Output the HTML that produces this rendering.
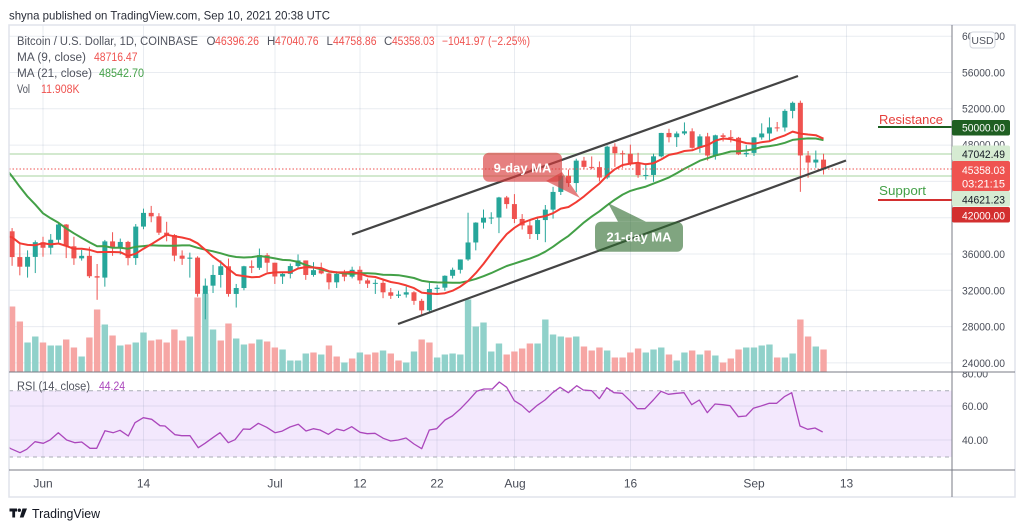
<!DOCTYPE html>
<html><head><meta charset="utf-8">
<style>
html,body{margin:0;padding:0;background:#fff;width:1024px;height:530px;overflow:hidden}
svg{display:block}
text{font-family:"Liberation Sans",Arial,sans-serif}
</style></head><body>
<svg width="1024" height="530" viewBox="0 0 1024 530" xmlns="http://www.w3.org/2000/svg">
<defs>
<clipPath id="mc"><rect x="9" y="25" width="943" height="347"/></clipPath>
<clipPath id="rc"><rect x="9" y="372" width="943" height="98"/></clipPath>
<clipPath id="ac"><rect x="952" y="372.5" width="63" height="97"/></clipPath>
</defs>
<rect width="1024" height="530" fill="#fff"/>

<!-- RSI band -->
<rect x="9" y="390.7" width="943" height="66.3" fill="#f3e8fd"/>

<!-- grid -->
<g stroke="rgba(120,135,165,0.16)" stroke-width="1">
<line x1="43" y1="25" x2="43" y2="470"/><line x1="143.5" y1="25" x2="143.5" y2="470"/>
<line x1="275" y1="25" x2="275" y2="470"/><line x1="360" y1="25" x2="360" y2="470"/>
<line x1="437" y1="25" x2="437" y2="470"/><line x1="514.5" y1="25" x2="514.5" y2="470"/>
<line x1="630.5" y1="25" x2="630.5" y2="470"/><line x1="754" y1="25" x2="754" y2="470"/>
<line x1="846.5" y1="25" x2="846.5" y2="470"/>
<line x1="9" y1="36.2" x2="952" y2="36.2"/><line x1="9" y1="72.5" x2="952" y2="72.5"/>
<line x1="9" y1="108.8" x2="952" y2="108.8"/><line x1="9" y1="145.1" x2="952" y2="145.1"/>
<line x1="9" y1="181.4" x2="952" y2="181.4"/><line x1="9" y1="217.7" x2="952" y2="217.7"/>
<line x1="9" y1="254" x2="952" y2="254"/><line x1="9" y1="290.3" x2="952" y2="290.3"/>
<line x1="9" y1="326.6" x2="952" y2="326.6"/><line x1="9" y1="362.9" x2="952" y2="362.9"/>
<line x1="9" y1="406" x2="952" y2="406"/><line x1="9" y1="440" x2="952" y2="440"/>
</g>
<g stroke="#a9acb5" stroke-width="1" stroke-dasharray="4,4">
<line x1="9" y1="390.7" x2="952" y2="390.7"/><line x1="9" y1="457" x2="952" y2="457"/>
</g>

<g id="vol" clip-path="url(#mc)"></g>
<g clip-path="url(#mc)">
<line x1="9" y1="154" x2="952" y2="154" stroke="#d3e9cf" stroke-width="2"/>
<line x1="9" y1="176" x2="952" y2="176" stroke="#d3e9cf" stroke-width="2"/>
</g>
<g id="cdl" clip-path="url(#mc)"></g>
<g id="ma" clip-path="url(#mc)" fill="none" stroke-width="2" stroke-linejoin="round"></g>
<line x1="9" y1="169" x2="952" y2="169" stroke="#ef5350" stroke-width="1" stroke-dasharray="1.5,2"/>

<!-- channel lines -->
<line x1="352" y1="234.5" x2="798" y2="76" stroke="#444" stroke-width="2.2"/>
<line x1="398" y1="324" x2="846" y2="160.5" stroke="#444" stroke-width="2.2"/>

<!-- callouts -->
<g>
<polygon points="546,181 562,172 580,198" fill="rgba(217,60,60,0.65)"/>
<rect x="483" y="152.7" width="79" height="29" rx="6" fill="rgba(217,60,60,0.65)"/>
<text x="522.5" y="172.5" font-size="13" font-weight="bold" fill="#fff" text-anchor="middle">9-day MA</text>
<polygon points="608,203 618,221.7 646,221.7" fill="rgba(43,105,43,0.6)"/>
<rect x="595" y="221.7" width="88" height="30" rx="6" fill="rgba(43,105,43,0.6)"/>
<text x="639" y="241.5" font-size="13" font-weight="bold" fill="#fff" text-anchor="middle">21-day MA</text>
</g>

<!-- resistance / support -->
<text x="879" y="124" font-size="13" fill="#e5403c" textLength="64" lengthAdjust="spacingAndGlyphs">Resistance</text>
<line x1="878" y1="127" x2="952" y2="127" stroke="#1b5e20" stroke-width="2"/>
<text x="879" y="195" font-size="13" fill="#43a047" textLength="47" lengthAdjust="spacingAndGlyphs">Support</text>
<line x1="878" y1="200" x2="952" y2="200" stroke="#d32f2f" stroke-width="2"/>

<!-- RSI line -->
<g clip-path="url(#rc)">
<polyline fill="none" stroke="#ab47bc" stroke-width="1.3" stroke-linejoin="round" points="9,447 10,448.3 20,452.7 26.7,449.3 35,441.7 43.3,443.3 50,440 58.3,432.7 66.7,440 75,442.7 81.7,442 90,448.3 96.7,448.3 105,430.7 113.3,432.7 120,430.3 128.3,436 135,422.7 143.3,417.7 151.7,419.3 160,425.7 165,426 175,434.7 181.7,435.7 190,435.7 198.3,447.7 205,443.3 213.3,437.3 220,432.7 228.3,442.7 235,439.7 243.3,429 250,429.3 258.3,423.3 266.7,427.3 275,432.7 281.7,431.3 290,427 298.3,424.3 306,431 313.3,428.7 320,430 328.3,434.3 336.7,429 344,430.7 351.7,426.7 360,432.3 367.3,433.7 375,433.3 383.3,438.3 390.7,441 398.3,440 406,438 414,444 421.7,448.7 429.3,430 436.7,428.7 445,420 452.3,416 460,409.3 468.3,400.7 476.7,391.3 484,389 492.3,389 499.3,382 506.7,387.3 514.3,400.7 521.7,405.3 529.3,412.3 537.3,405.3 545,400 552.7,392.7 560,387.3 568.3,392.7 576.7,385.7 583.3,390 591.7,390.7 599.3,398.7 606.7,387.7 614,392.7 622.3,393.3 630,400.7 637.3,408.7 645,408.7 653.3,400 661,391.3 668.3,394.3 676.7,393.3 684,392.7 691.7,404.7 699.3,400 707.3,412.7 715,404 722.7,404.7 730,405.7 738.3,416.7 746,416 753.3,408.3 761,406 769.3,403.3 776.7,403.3 784.3,396.7 791.7,392.7 800,426 807.7,429.3 815,428 822.7,432"/>
</g>

<!-- frame & separators -->
<rect x="9" y="25" width="1006" height="472" fill="none" stroke="#e0e3eb" stroke-width="1.5"/>
<g stroke="#787b86" stroke-width="1">
<line x1="952" y1="25" x2="952" y2="497"/>
<line x1="9" y1="372" x2="1015" y2="372"/>
<line x1="9" y1="470" x2="1015" y2="470"/>
</g>

<!-- header -->
<text x="9" y="19.5" font-size="12" fill="#2a2e39" textLength="321" lengthAdjust="spacingAndGlyphs">shyna published on TradingView.com, Sep 10, 2021 20:38 UTC</text>

<!-- legend -->
<g font-size="11.5" fill="#50535e">
<text x="17" y="45" textLength="181" lengthAdjust="spacingAndGlyphs">Bitcoin / U.S. Dollar, 1D, COINBASE</text>
<text x="206.5" y="45">O</text><text x="215" y="45" fill="#ef5350" textLength="44" lengthAdjust="spacingAndGlyphs">46396.26</text>
<text x="267" y="45">H</text><text x="275" y="45" fill="#ef5350" textLength="43.5" lengthAdjust="spacingAndGlyphs">47040.76</text>
<text x="326.5" y="45">L</text><text x="333" y="45" fill="#ef5350" textLength="43.5" lengthAdjust="spacingAndGlyphs">44758.86</text>
<text x="384" y="45">C</text><text x="392" y="45" fill="#ef5350" textLength="42.5" lengthAdjust="spacingAndGlyphs">45358.03</text>
<text x="442" y="45" fill="#ef5350" textLength="88" lengthAdjust="spacingAndGlyphs">−1041.97 (−2.25%)</text>
<text x="17" y="61" textLength="69" lengthAdjust="spacingAndGlyphs">MA (9, close)</text>
<text x="94" y="61" fill="#ef5350" textLength="43.5" lengthAdjust="spacingAndGlyphs">48716.47</text>
<text x="17" y="77" textLength="75" lengthAdjust="spacingAndGlyphs">MA (21, close)</text>
<text x="99" y="77" fill="#43a047" textLength="45" lengthAdjust="spacingAndGlyphs">48542.70</text>
<text x="17" y="93" textLength="13" lengthAdjust="spacingAndGlyphs">Vol</text>
<text x="41" y="93" fill="#ef5350" textLength="38.5" lengthAdjust="spacingAndGlyphs">11.908K</text>
<text x="17" y="390" textLength="73" lengthAdjust="spacingAndGlyphs">RSI (14, close)</text>
<text x="99" y="390" fill="#ab47bc" textLength="26" lengthAdjust="spacingAndGlyphs">44.24</text>
</g>

<!-- price axis -->
<g font-size="11" fill="#4a4e59">
<text x="962" y="40.2" textLength="43" lengthAdjust="spacingAndGlyphs">60000.00</text>
<text x="962" y="76.7" textLength="43" lengthAdjust="spacingAndGlyphs">56000.00</text>
<text x="962" y="112.5" textLength="43" lengthAdjust="spacingAndGlyphs">52000.00</text>
<text x="962" y="148.5" textLength="43" lengthAdjust="spacingAndGlyphs">48000.00</text>
<text x="962" y="258" textLength="43" lengthAdjust="spacingAndGlyphs">36000.00</text>
<text x="962" y="294.3" textLength="43" lengthAdjust="spacingAndGlyphs">32000.00</text>
<text x="962" y="330.6" textLength="43" lengthAdjust="spacingAndGlyphs">28000.00</text>
<text x="962" y="367" textLength="43" lengthAdjust="spacingAndGlyphs">24000.00</text>
<text x="962" y="377.5" textLength="26" lengthAdjust="spacingAndGlyphs" clip-path="url(#ac)">80.00</text>
<text x="962" y="410" textLength="26" lengthAdjust="spacingAndGlyphs">60.00</text>
<text x="962" y="444" textLength="26" lengthAdjust="spacingAndGlyphs">40.00</text>
</g>
<rect x="970" y="32" width="25" height="16" rx="3" fill="#fff" stroke="#d1d4dc" stroke-width="1"/>
<text x="982.5" y="44" font-size="10.5" fill="#50535e" text-anchor="middle">USD</text>

<!-- axis badges -->
<g font-size="11">
<rect x="952" y="120" width="58" height="15.5" rx="2" fill="#1f5f22"/>
<text x="962" y="131.7" fill="#fff" textLength="43" lengthAdjust="spacingAndGlyphs">50000.00</text>
<rect x="952" y="145.5" width="58" height="15.5" rx="2" fill="#d6ebd2"/>
<text x="962" y="157.8" fill="#131722" textLength="43" lengthAdjust="spacingAndGlyphs">47042.49</text>
<rect x="952" y="161" width="58" height="30" rx="2" fill="#ef5350"/>
<text x="962" y="174" fill="#fff" textLength="43" lengthAdjust="spacingAndGlyphs">45358.03</text>
<text x="962" y="187.5" fill="#fff" textLength="43" lengthAdjust="spacingAndGlyphs">03:21:15</text>
<rect x="952" y="191" width="58" height="15.5" rx="2" fill="#d6ebd2"/>
<text x="962" y="203.3" fill="#131722" textLength="43" lengthAdjust="spacingAndGlyphs">44621.23</text>
<rect x="952" y="207" width="58" height="15.5" rx="2" fill="#d32f2f"/>
<text x="962" y="219.5" fill="#fff" textLength="43" lengthAdjust="spacingAndGlyphs">42000.00</text>
</g>

<!-- time axis -->
<g font-size="12" fill="#4a4e59" text-anchor="middle">
<text x="43" y="487.5">Jun</text><text x="143.5" y="487.5">14</text>
<text x="275" y="487.5">Jul</text><text x="360" y="487.5">12</text>
<text x="437" y="487.5">22</text><text x="515" y="487.5">Aug</text>
<text x="630.5" y="487.5">16</text><text x="754" y="487.5">Sep</text>
<text x="846.5" y="487.5">13</text>
</g>

<!-- logo -->
<g fill="#131722">
<rect x="9.5" y="508.5" width="7.5" height="3"/>
<rect x="12.3" y="508.5" width="2.8" height="9"/>
<circle cx="19.3" cy="510.2" r="1.7"/>
<polygon points="22.5,508.5 27,508.5 23.5,517.5 19.8,517.5"/>
</g>
<text x="32" y="518" font-size="12.5" fill="#131722" textLength="68" lengthAdjust="spacingAndGlyphs">TradingView</text>
</svg>

<script>
(function(){
var D=[[38.50,38.86,34.70,35.66],[35.66,37.30,33.65,34.60],[34.60,36.40,33.40,35.68],[35.68,37.50,33.90,37.30],[37.30,37.90,35.70,36.69],[36.69,38.20,35.95,37.57],[37.57,39.48,37.20,39.25],[39.25,39.30,35.55,36.85],[36.85,37.90,34.80,35.52],[35.52,36.45,35.27,35.80],
[35.80,36.80,33.35,33.55],[33.55,34.90,30.95,33.40],[33.40,37.55,32.40,37.39],[37.39,38.40,35.80,36.69],[36.69,37.70,35.95,37.33],[37.33,37.45,34.75,35.55],[35.55,39.30,34.80,39.02],[39.02,41.00,38.73,40.53],[40.53,41.30,39.50,40.15],[40.15,40.50,38.10,38.35],
[38.35,39.55,37.40,38.09],[38.09,38.20,35.20,35.82],[35.82,36.40,34.80,35.48],[35.48,36.15,33.40,35.60],[35.60,35.75,31.30,31.61],[31.61,33.30,28.80,32.51],[32.51,34.80,31.70,33.69],[33.69,35.30,32.30,34.65],[34.65,35.50,31.30,31.60],[31.60,32.70,30.10,32.25],
[32.25,34.70,32.00,34.65],[34.65,35.30,33.90,34.48],[34.48,36.60,34.25,35.87],[35.87,36.10,34.00,35.04],[35.04,35.04,32.70,33.52],[33.52,33.95,32.70,33.81],[33.81,34.95,33.31,34.67],[34.67,35.95,34.40,35.29],[35.29,35.29,33.15,33.69],[33.69,35.10,33.50,34.22],
[34.22,35.05,33.77,33.86],[33.86,33.92,32.10,32.88],[32.88,34.10,32.26,33.80],[33.80,34.25,33.00,33.50],[33.50,34.60,33.31,34.26],[34.26,34.65,32.70,33.09],[33.09,33.30,32.26,32.73],[32.73,33.20,31.60,32.82],[32.82,33.15,31.13,31.78],[31.78,32.25,31.05,31.40],
[31.40,31.95,31.15,31.53],[31.53,32.40,31.20,31.78],[31.78,31.90,30.40,30.84],[30.84,31.06,29.30,29.79],[29.79,32.86,29.48,32.14],[32.14,32.60,31.70,32.29],[32.29,33.65,31.95,33.60],[33.60,34.50,33.30,34.26],[34.26,35.40,33.85,35.40],[35.40,40.55,35.25,37.27],
[37.27,39.50,36.40,39.46],[39.46,40.90,38.80,40.00],[40.00,40.60,39.30,40.02],[40.02,42.30,38.30,42.23],[42.23,42.40,41.00,41.50],[41.50,42.60,39.40,39.86],[39.86,40.40,38.70,39.15],[39.15,39.80,37.65,38.20],[38.20,39.97,37.55,39.74],[39.74,41.40,37.30,40.89],
[40.89,43.40,39.90,42.84],[42.84,44.70,42.50,44.61],[44.61,45.30,43.40,43.82],[43.82,46.50,42.80,46.29],[46.29,46.70,45.35,45.60],[45.60,46.75,45.35,45.57],[45.57,46.20,44.00,44.43],[44.43,47.95,44.25,47.83],[47.83,48.20,45.60,47.10],[47.10,47.40,45.50,47.04],
[47.04,48.05,45.70,45.94],[45.94,47.15,44.40,44.69],[44.69,46.00,44.20,44.71],[44.71,47.05,43.95,46.76],[46.76,49.35,46.65,49.34],[49.34,49.80,48.30,48.87],[48.87,49.50,47.80,49.28],[49.28,50.50,49.10,49.52],[49.52,49.85,47.60,47.70],[47.70,49.20,47.15,48.96],
[48.96,49.35,46.30,46.85],[46.85,49.15,46.40,49.08],[49.08,49.30,48.40,48.90],[48.90,49.65,48.30,48.81],[48.81,48.90,46.90,46.99],[46.99,48.00,46.70,47.14],[47.14,48.90,46.80,48.85],[48.85,50.40,48.60,49.28],[49.28,51.05,48.40,49.95],[49.95,50.55,49.50,49.94],
[49.94,51.95,49.50,51.77],[51.77,52.80,50.95,52.66],[52.66,52.90,42.85,46.86],[46.86,47.35,44.40,46.08],[46.08,47.40,45.50,46.40],[46.40,47.04,44.76,45.36]];
var pre=[57.35,58.80,58.23,55.86,56.70,49.15,49.70,49.90,46.76,46.45,43.54,42.90,37.00,40.60,37.30,37.53,34.70,38.80,38.32,39.24,38.45];
var VH=[65,50,29,35,29,26,26,32,24,15,34,62,47,36,26,27,29,39,31,32,29,42,31,35,74,78,42,31,48,33,27,28,32,30,24,22,11,11,18,19,17,26,15,9,13,19,17,19,21,18,11,9,20,32,29,14,17,18,17,72,45,49,20,28,17,20,23,28,28,52,37,35,34,35,25,21,24,21,14,14,19,23,19,22,24,17,11,19,21,17,21,16,9,13,22,24,24,26,27,14,14,18,52,35,25,22];
var VG="rrggrggrrgrrgrgrggrrrrrgrggrrggrgrrggggrgrrgrgrrgrrggrrgggggggggrrrrggggrgrrrgrrrrgggrggrgrgrrrggggrggrrgr";
function Y(p){return 254-(p-36)*9.075;}
function X(i){return 12.1+7.728*i;}
var s='';
for(var i=0;i<VH.length;i++){
  var g=VG.charAt(i)==='g';
  s+='<rect x="'+(X(i)-3.2).toFixed(2)+'" y="'+(371.5-VH[i]).toFixed(2)+'" width="6.4" height="'+VH[i]+'" fill="'+(g?'#90d1ca':'#f6a6a4')+'"/>';
}
document.getElementById('vol').innerHTML=s;
s='';
for(var i=0;i<D.length;i++){
  var o=D[i][0],h=D[i][1],l=D[i][2],c=D[i][3];
  var col=c>=o?'#26a69a':'#ef5350';var x=X(i);
  s+='<line x1="'+x.toFixed(2)+'" x2="'+x.toFixed(2)+'" y1="'+Y(h).toFixed(2)+'" y2="'+Y(l).toFixed(2)+'" stroke="'+col+'" stroke-width="1"/>';
  var y1=Math.min(Y(o),Y(c)),hh=Math.max(1,Math.abs(Y(o)-Y(c)));
  s+='<rect x="'+(x-2.5).toFixed(2)+'" y="'+y1.toFixed(2)+'" width="5" height="'+hh.toFixed(2)+'" fill="'+col+'"/>';
}
document.getElementById('cdl').innerHTML=s;
var cl=pre.concat(D.map(function(d){return d[3];}));
function ma(n){var pts=[];for(var i=-1;i<D.length;i++){var g=i+21,sum=0;for(var k=g-n+1;k<=g;k++)sum+=cl[k];pts.push(X(i).toFixed(1)+','+Y(sum/n).toFixed(1));}return pts.join(' ');}
document.getElementById('ma').innerHTML='<polyline points="'+ma(21)+'" stroke="#43a047"/><polyline points="'+ma(9)+'" stroke="#f23b33"/>';
})();
</script>
</body></html>
